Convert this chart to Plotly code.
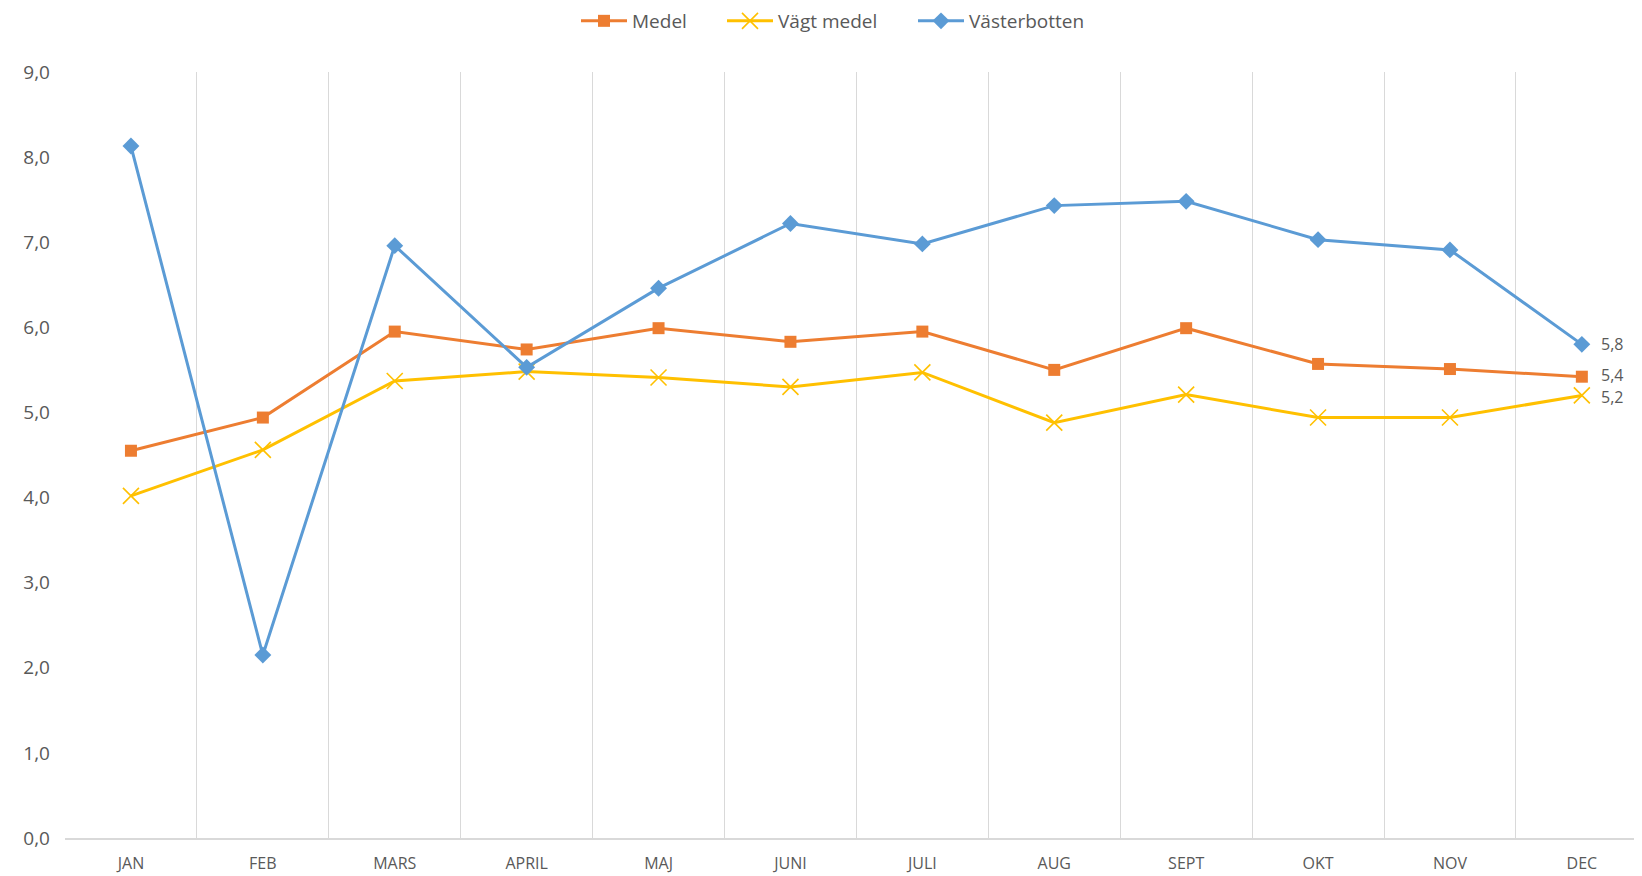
import plotly.graph_objects as go

months = ["JAN", "FEB", "MARS", "APRIL", "MAJ", "JUNI", "JULI", "AUG", "SEPT", "OKT", "NOV", "DEC"]
medel = [4.55, 4.94, 5.95, 5.74, 5.99, 5.83, 5.95, 5.50, 5.99, 5.57, 5.51, 5.42]
vagt_medel = [4.02, 4.56, 5.37, 5.48, 5.41, 5.30, 5.47, 4.88, 5.21, 4.94, 4.94, 5.20]
vasterbotten = [8.13, 2.15, 6.96, 5.53, 6.46, 7.22, 6.98, 7.43, 7.48, 7.03, 6.91, 5.80]
y_ticks = [0, 1, 2, 3, 4, 5, 6, 7, 8, 9]

FONT = "Open Sans, Liberation Sans, sans-serif"
GRAY = "#595959"
FW = 1634  # figure width (page body adds an 8px margin)

series = [
    ("Medel", medel, "#ED7D31", dict(symbol="square", size=12, color="#ED7D31"), "legend", 568, 2),
    ("Vägt medel", vagt_medel, "#FFC000",
     dict(symbol="x-thin-open", size=16, color="#FFC000", line=dict(width=1.6, color="#FFC000")), "legend2", 714, -2),
    ("Västerbotten", vasterbotten, "#5B9BD5", dict(symbol="diamond", size=13, color="#5B9BD5"), "legend3", 905, 0),
]

fig = go.Figure()
legend_layouts = {}
for name, vals, color, marker, leg, lx, yshift in series:
    fig.add_trace(go.Scatter(
        x=months, y=vals, name=name, mode="lines+markers",
        line=dict(color=color, width=3), marker=marker,
        legend=leg, cliponaxis=False,
    ))
    fig.add_annotation(
        x=months[-1], y=vals[-1], text=f"{vals[-1]:.1f}".replace(".", ","),
        showarrow=False, xanchor="left", xshift=17, yshift=yshift,
        font=dict(size=16, color=GRAY, family=FONT),
    )
    legend_layouts[leg] = dict(
        orientation="h", x=lx / FW, xanchor="left", xref="container",
        y=1.0666, yanchor="middle", yref="paper",
        font=dict(size=19, color=GRAY, family=FONT),
        itemwidth=46, bgcolor="rgba(0,0,0,0)",
    )

fig.update_layout(
    width=FW, height=868,
    margin=dict(l=57, r=0, t=64, b=38, autoexpand=False),
    paper_bgcolor="white", plot_bgcolor="white",
    separators=", ",
    font=dict(family=FONT, color=GRAY, size=16),
    showlegend=True,
    **legend_layouts,
    xaxis=dict(
        type="category", categoryorder="array", categoryarray=months,
        range=[-0.5, 11.456],
        tickson="boundaries", ticks="",
        showgrid=True, gridcolor="#D9D9D9", gridwidth=1.3,
        showline=True, linecolor="#D9D9D9", linewidth=1.5,
        tickfont=dict(size=16, color=GRAY, family=FONT),
        ticklabelstandoff=10, automargin=False,
        zeroline=False,
    ),
    yaxis=dict(
        range=[0, 9], tickvals=y_ticks, tickformat=".1f",
        showgrid=False, zeroline=False, showline=False, ticks="",
        tickfont=dict(size=19, color=GRAY, family=FONT),
        ticklabelstandoff=14, automargin=False,
    ),
)

fig.write_html("out.html")
